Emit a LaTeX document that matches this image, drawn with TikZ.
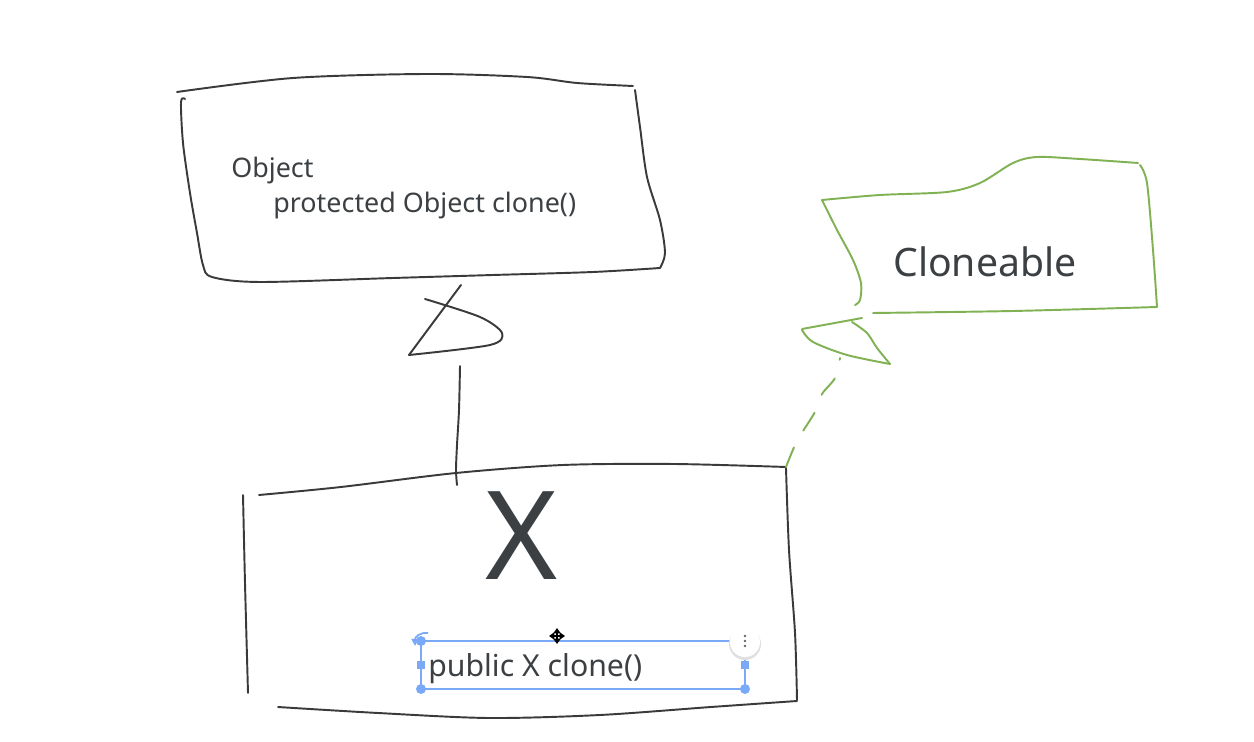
\documentclass[tikz,border=0pt]{standalone}
\usepackage{fontspec}
\setmainfont{Noto Sans}
\usetikzlibrary{arrows.meta}
\definecolor{ink}{RGB}{58,58,58}
\definecolor{txt}{RGB}{60,64,67}
\definecolor{leaf}{RGB}{128,178,84}
\definecolor{sel}{RGB}{122,170,247}
\begin{document}
\begin{tikzpicture}[x=0.02cm,y=-0.02cm,
    pen/.style={draw=ink,line width=1.1pt,line cap=round,line join=round},
    gpen/.style={pen,draw=leaf},
    lbl/.style={text=txt,inner sep=0pt,anchor=base west},
    hdl/.style={fill=sel,draw=none}]
  \fill[white] (0,0) rectangle (1254,742);
  \useasboundingbox (0,0) rectangle (1254,742);
  % Object box
  \draw[pen] plot[smooth] coordinates {(177,92) (293,78) (427,74) (527,77) (577,83) (633,86)};
  \draw[pen] plot[smooth] coordinates {(185,99) (181,102) (183,143) (190,193) (197,233) (203,265) (212,277) (260,282) (393,278) (493,275) (593,272) (660,268)};
  \draw[pen] plot[smooth] coordinates {(660,268) (665,253) (660,220) (647,177) (640,127) (635,90)};
  \node[lbl,font=\fontsize{15.3}{18}\selectfont] (objname) at (231,178) {Object};
  \node[lbl,font=\fontsize{15.3}{18}\selectfont] (objclone) at (273,213) {protected Object clone()};
  % X box
  \draw[pen] plot[smooth] coordinates {(259,495) (341,487) (456,473) (563,465) (674,464) (786,467)};
  \draw[pen] plot[smooth] coordinates {(786,468) (789,550) (795,633) (797,700)};
  \draw[pen] plot[smooth] coordinates {(797,701) (711,707) (600,715) (489,718) (378,713) (278,707)};
  \draw[pen] plot[smooth] coordinates {(243,495) (245,583) (248,693)};
  \node[lbl,font=\fontsize{70}{80}\selectfont] (xname) at (485,580) {X};
  \node[lbl,font=\fontsize{17.2}{20}\selectfont] (xclone) at (428,677) {public X clone()};
  % Cloneable
  \draw[gpen] plot[smooth] coordinates {(822,200) (880,195) (947,192) (980,183) (1013,163) (1037,157) (1080,159) (1138,163)};
  \draw[gpen] plot[smooth] coordinates {(1140,165) (1147,183) (1153,250) (1157,307)};
  \draw[gpen] plot[smooth] coordinates {(1157,307) (1013,311) (873,313)};
  \draw[gpen] plot[smooth] coordinates {(822,200) (837,230) (853,260) (861,283) (860,300) (855,305)};
  \node[lbl,font=\fontsize{22.3}{26}\selectfont] (clname) at (893,277) {Cloneable};
  % arrow heads and connectors
  \coordinate (objhead) at (460,366);
  \coordinate (xtop) at (457,485);
  \coordinate (clhead) at (840,358);
  \coordinate (xcorner) at (786,467);
  \draw[pen] (461,285) -- (409,355);
  \draw[pen] plot[smooth] coordinates {(425,299) (480,317) (502,333) (490,345) (409,355)};
  \draw[pen] plot[smooth] coordinates {(xtop) (456,470) (457,445) (459,410) (objhead)};
  \draw[gpen] (802,329) -- (862,318);
  \draw[gpen] plot[smooth] coordinates {(852,322) (867,333) (877,348) (890,364)};
  \draw[gpen] plot[smooth] coordinates {(890,364) (847,355) (813,342) (802,330)};
  \draw[gpen,dash pattern=on 12pt off 11pt] plot[smooth] coordinates {(xcorner) (797,441) (815,412) (822,394) (835,378) (clhead)};
  % selection
  \draw[sel,line width=.9pt] (421,641) rectangle (745,689);
  \foreach \p in {(421,641),(421,689),(745,689)} \fill[sel] \p circle (5);
  \foreach \p in {(421,665),(745,665)} \fill[sel] \p ++(-4,-4) rectangle ++(8,8);
  \fill[black!12] (745,644) circle (16);
  \fill[white] (745,642) circle (15);
  \foreach \d in {636,641,646} \fill[black!60] (745,\d) circle (1.3);
  \draw[sel,line width=1pt,-{Triangle[length=4pt,width=4pt]}] (428,633) .. controls (420,632) and (415,637) .. (415,646);
  \draw[black,line width=.8pt,{Triangle[length=3pt,width=4pt]}-{Triangle[length=3pt,width=4pt]}] (549,636) -- (565,636);
  \draw[black,line width=.8pt,{Triangle[length=3pt,width=4pt]}-{Triangle[length=3pt,width=4pt]}] (557,628) -- (557,644);
\end{tikzpicture}
\end{document}
